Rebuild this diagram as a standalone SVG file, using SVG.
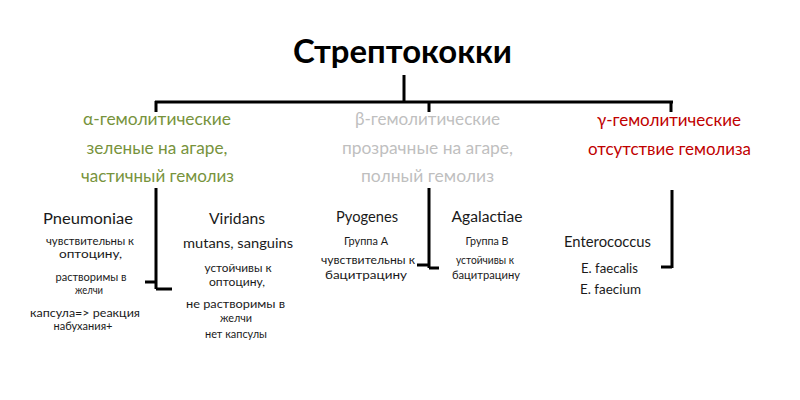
<svg xmlns="http://www.w3.org/2000/svg" width="800" height="400" viewBox="0 0 800 400">
<style>
text{font-family:Lato,"Open Sans","Liberation Sans",sans-serif;text-anchor:middle;fill:#1a1a1a}
.title{font-size:32px;font-weight:bold;fill:#000}
.h{font-size:17px}
.g{fill:#77933C}
.b{fill:#BFBFBF}
.r{fill:#C00000}
.n{font-size:15.5px}
.s{font-size:11px}
.m{font-size:14px}
.e{font-size:12.5px}
.c{fill:none;stroke:#000;stroke-width:3}
</style>
<rect width="800" height="400" fill="#fff"/>
<g id="connectors" class="c">
<path d="M404 75V102M155 102H673M156 101V112M429 101V112M671 101V112"/>
<path d="M156 188V289M145 282H156M156 289H172"/>
<path d="M429 188V268M417 265H429M429 268H439"/>
<path d="M672 190V268M661 267H672"/>
</g>
<g id="title"><text class="title" x="402.5" y="63" textLength="219" lengthAdjust="spacingAndGlyphs">Стрептококки</text></g>
<g id="alpha" class="h">
<text class="g" x="157" y="125" textLength="148" lengthAdjust="spacingAndGlyphs">α-гемолитические</text>
<text class="g" x="157" y="154" textLength="141" lengthAdjust="spacingAndGlyphs">зеленые на агаре,</text>
<text class="g" x="157.5" y="182" textLength="153" lengthAdjust="spacingAndGlyphs">частичный гемолиз</text>
</g>
<g id="beta" class="h">
<text class="b" x="427.5" y="125" textLength="145" lengthAdjust="spacingAndGlyphs">β-гемолитические</text>
<text class="b" x="427.5" y="154" textLength="171" lengthAdjust="spacingAndGlyphs">прозрачные на агаре,</text>
<text class="b" x="427.5" y="182" textLength="133" lengthAdjust="spacingAndGlyphs">полный гемолиз</text>
</g>
<g id="gamma" class="h">
<text class="r" x="669" y="126" textLength="144" lengthAdjust="spacingAndGlyphs">γ-гемолитические</text>
<text class="r" x="669.5" y="155" textLength="163" lengthAdjust="spacingAndGlyphs">отсутствие гемолиза</text>
</g>
<g id="pneumoniae">
<text class="n" x="88" y="224" textLength="90" lengthAdjust="spacingAndGlyphs">Pneumoniae</text>
<text class="s" x="90" y="245" textLength="88" lengthAdjust="spacingAndGlyphs">чувствительны к</text>
<text class="s" x="90.5" y="258" textLength="63" lengthAdjust="spacingAndGlyphs">оптоцину,</text>
<text class="s" x="91" y="281" textLength="71" lengthAdjust="spacingAndGlyphs">растворимы в</text>
<text class="s" x="89" y="294" textLength="28" lengthAdjust="spacingAndGlyphs">желчи</text>
<text class="s" x="85" y="317" textLength="110" lengthAdjust="spacingAndGlyphs">капсула=&gt; реакция</text>
<text class="s" x="83" y="330" textLength="59" lengthAdjust="spacingAndGlyphs">набухания+</text>
</g>
<g id="viridans">
<text class="n" x="237" y="224" textLength="56" lengthAdjust="spacingAndGlyphs">Viridans</text>
<text class="m" x="238" y="248" textLength="110" lengthAdjust="spacingAndGlyphs">mutans, sanguins</text>
<text class="s" x="238" y="272" textLength="67" lengthAdjust="spacingAndGlyphs">устойчивы к</text>
<text class="s" x="237" y="286" textLength="56" lengthAdjust="spacingAndGlyphs">оптоцину,</text>
<text class="s" x="235.5" y="308" textLength="99" lengthAdjust="spacingAndGlyphs">не растворимы в</text>
<text class="s" x="236" y="322" textLength="32" lengthAdjust="spacingAndGlyphs">желчи</text>
<text class="s" x="236" y="338" textLength="62" lengthAdjust="spacingAndGlyphs">нет капсулы</text>
</g>
<g id="pyogenes">
<text class="n" x="367" y="222" textLength="62" lengthAdjust="spacingAndGlyphs">Pyogenes</text>
<text class="s" x="366" y="245" textLength="44" lengthAdjust="spacingAndGlyphs">Группа А</text>
<text class="s" x="368" y="264" textLength="94" lengthAdjust="spacingAndGlyphs">чувствительны к</text>
<text class="s" x="366" y="279" textLength="82" lengthAdjust="spacingAndGlyphs">бацитрацину</text>
</g>
<g id="agalactiae">
<text class="n" x="487" y="222" textLength="71" lengthAdjust="spacingAndGlyphs">Agalactiae</text>
<text class="s" x="487" y="245" textLength="43" lengthAdjust="spacingAndGlyphs">Группа В</text>
<text class="s" x="485" y="264" textLength="58" lengthAdjust="spacingAndGlyphs">устойчивы к</text>
<text class="s" x="486" y="279" textLength="68" lengthAdjust="spacingAndGlyphs">бацитрацину</text>
</g>
<g id="enterococcus">
<text class="n" x="607.5" y="247" textLength="87" lengthAdjust="spacingAndGlyphs">Enterococcus</text>
<text class="e" x="609.5" y="273" textLength="57" lengthAdjust="spacingAndGlyphs">E. faecalis</text>
<text class="e" x="610.5" y="294" textLength="61" lengthAdjust="spacingAndGlyphs">E. faecium</text>
</g>
</svg>
